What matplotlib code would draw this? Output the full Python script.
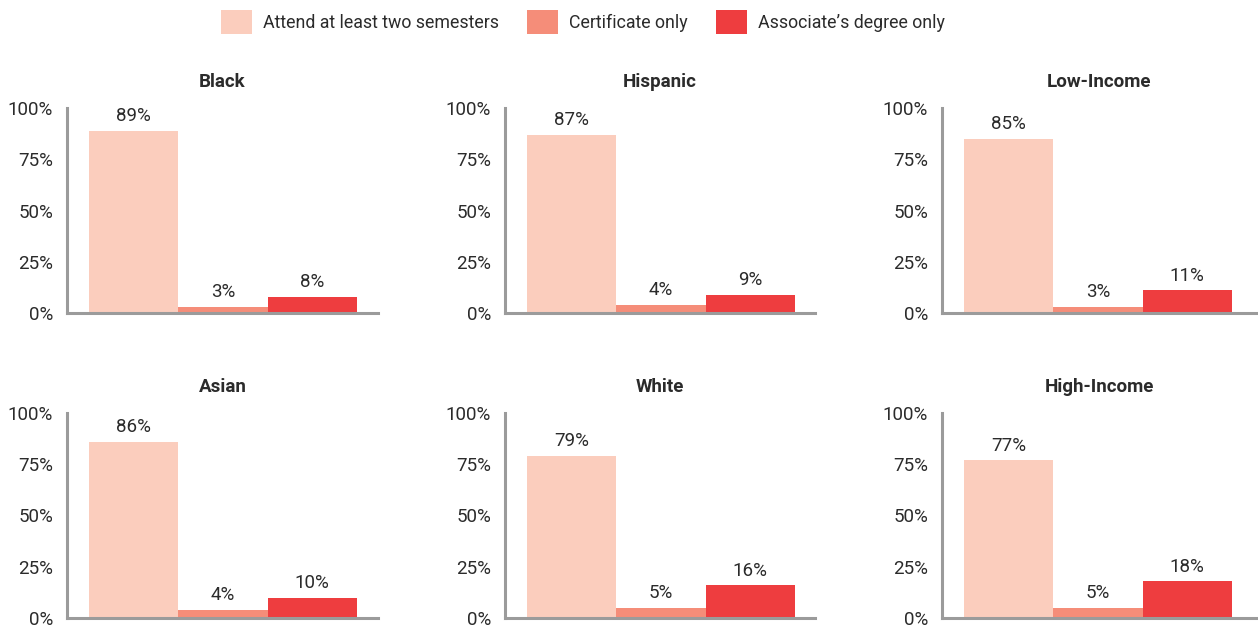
import matplotlib
matplotlib.use('Agg')
import matplotlib.pyplot as plt
from matplotlib.patches import Patch
from matplotlib.ticker import FuncFormatter

plt.rcParams['font.family'] = ['Roboto', 'DejaVu Sans']

GROUPS = ['Black', 'Hispanic', 'Low-Income', 'Asian', 'White', 'High-Income']
SERIES = ['Attend at least two semesters', 'Certificate only', 'Associate\u2019s degree only']
ATTEND = [89, 87, 85, 86, 79, 77]
CERTIFICATE = [3, 4, 3, 4, 5, 5]
ASSOCIATE = [8, 9, 11, 10, 16, 18]

COLORS = ['#FBCDBD', '#F58D79', '#EE3D3F']
TEXT_COLOR = '#2b2b2b'
AXIS_COLOR = '#9b9b9b'
FONT_SIZE = 13.5

W, H = 1258, 628
fig = plt.figure(figsize=(W / 100, H / 100), dpi=100)

# panel boxes in pixels: left spine x, right end x, baseline y (from top)
COL_LEFT = [67, 505, 942]
COL_RIGHT = [378, 815, 1257]
ROW_BASE = [313, 618]
PANEL_H = 205

for idx, name in enumerate(GROUPS):
    row, col = divmod(idx, 3)
    left = COL_LEFT[col] / W
    width = (COL_RIGHT[col] - COL_LEFT[col]) / W
    bottom = 1 - ROW_BASE[row] / H
    ax = fig.add_axes([left, bottom, width, PANEL_H / H])

    values = [ATTEND[idx], CERTIFICATE[idx], ASSOCIATE[idx]]
    ax.bar(range(3), values, width=1.0, color=COLORS, linewidth=0)
    for x, v in enumerate(values):
        ax.annotate('{}%'.format(v), (x, v), xytext=(0, 4), textcoords='offset points',
                    ha='center', va='bottom', fontsize=FONT_SIZE, color=TEXT_COLOR)

    ax.set_xlim(-0.745, 2.5 + (COL_RIGHT[col] - COL_LEFT[col] - 290) / 89.3)
    ax.set_ylim(0, 100)
    ax.set_yticks([0, 25, 50, 75, 100])
    ax.yaxis.set_major_formatter(FuncFormatter(lambda v, p: '{}%'.format(int(v))))
    ax.set_xticks([])
    ax.tick_params(axis='y', length=0, pad=10, labelsize=FONT_SIZE, labelcolor=TEXT_COLOR)
    for side in ['top', 'right']:
        ax.spines[side].set_visible(False)
    for side in ['left', 'bottom']:
        ax.spines[side].set_color(AXIS_COLOR)
        ax.spines[side].set_linewidth(2.2)
    ax.set_title(name, fontsize=FONT_SIZE, fontweight='bold', color=TEXT_COLOR, pad=15)

handles = [Patch(facecolor=c, edgecolor='none') for c in COLORS]
fig.legend(handles, SERIES, loc='center', bbox_to_anchor=(583 / W, 1 - 22 / H), ncol=3,
           frameon=False, fontsize=12.8, handlelength=1.75, handleheight=1.75,
           handletextpad=0.6, columnspacing=1.6, labelcolor=TEXT_COLOR)

fig.savefig('out.png', dpi=100)
